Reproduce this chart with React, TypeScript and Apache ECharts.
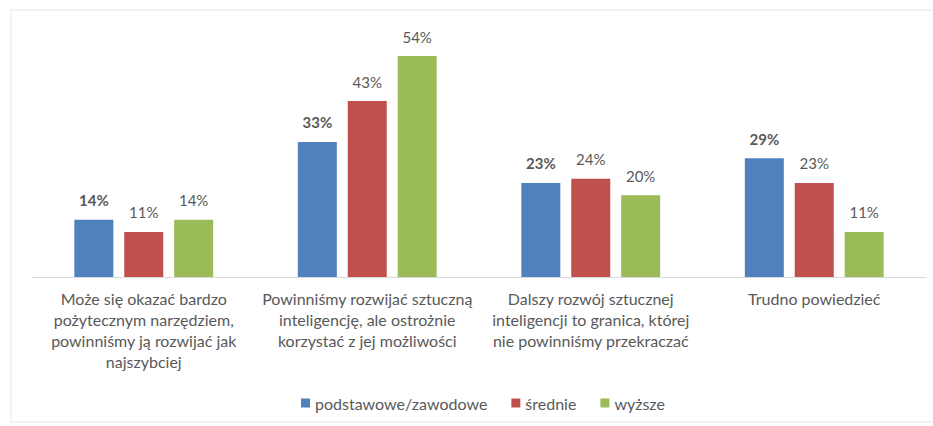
import React, { useEffect, useRef } from "react";
import * as echarts from "echarts";

const categories = [
  "Może się okazać bardzo\npożytecznym narzędziem,\npowinniśmy ją rozwijać jak\nnajszybciej",
  "Powinniśmy rozwijać sztuczną\ninteligencję, ale ostrożnie\nkorzystać z jej możliwości",
  "Dalszy rozwój sztucznej\ninteligencji to granica, której\nnie powinniśmy przekraczać",
  "Trudno powiedzieć",
];
const seriesNames = ["podstawowe/zawodowe", "średnie", "wyższe"];
const podstawowe = [14, 33, 23, 29];
const srednie = [11, 43, 24, 23];
const wyzsze = [14, 54, 20, 11];
const colors = ["#4F81BD", "#C0504D", "#9BBB59"];

const FONT = "Lato";
const TXT = "#595959";

export default function App() {
  const ref = useRef<HTMLDivElement>(null);
  useEffect(() => {
    if (!ref.current) return;
    const chart = echarts.init(ref.current, null, { renderer: "svg" });
    const values = [podstawowe, srednie, wyzsze];
    chart.setOption({
      animation: false,
      backgroundColor: "#ffffff",
      textStyle: { fontFamily: FONT, color: TXT },
      graphic: [
        {
          type: "rect",
          shape: { x: 11, y: 10, width: 940, height: 412 },
          style: { fill: "none", stroke: "#f1f1f1", lineWidth: 2 },
          silent: true,
        },
      ],
      legend: {
        bottom: 10,
        left: 296,
        itemWidth: 9,
        itemHeight: 9,
        itemGap: 24,
        icon: "rect",
        textStyle: { fontFamily: FONT, fontSize: 16, color: TXT },
        data: seriesNames,
      },
      grid: { left: 32, right: 7, top: 31.5, height: 245.5, containLabel: false },
      xAxis: {
        type: "category",
        data: categories,
        axisLine: { lineStyle: { color: "#d9d9d9", width: 1 } },
        axisTick: { show: false },
        axisLabel: {
          interval: 0,
          margin: 11,
          fontFamily: FONT,
          fontSize: 16,
          lineHeight: 21,
          color: TXT,
          align: "center",
        },
      },
      yAxis: {
        type: "value",
        min: 0,
        max: 60,
        show: false,
        splitLine: { show: false },
      },
      series: values.map((v, i) => ({
        name: seriesNames[i],
        type: "bar",
        data: v,
        barWidth: 39,
        barGap: "28%",
        itemStyle: { color: colors[i] },
        label: {
          show: true,
          position: "top",
          distance: 12,
          formatter: "{c}%",
          fontFamily: FONT,
          fontSize: 15,
          color: TXT,
          fontWeight: i === 0 ? "bold" : "normal",
        },
      })),
    });
    return () => chart.dispose();
  }, []);
  return <div ref={ref} style={{ width: 933, height: 426, position: "absolute", left: 0, top: 0 }} />;
}
